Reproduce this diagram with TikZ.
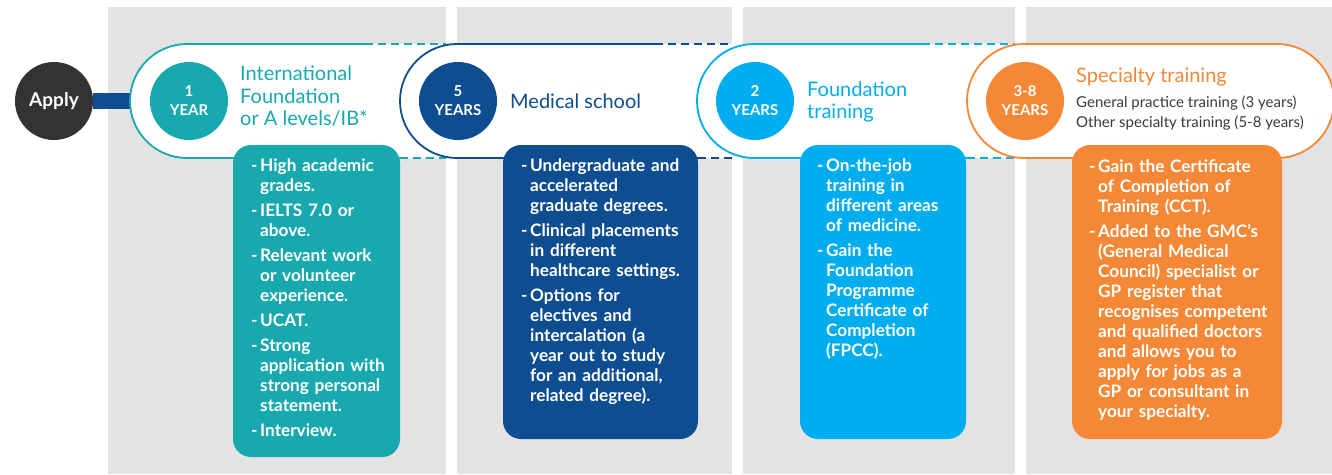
\documentclass[tikz,border=0pt]{standalone}
\usepackage{fontspec}
\setmainfont{Lato}
\definecolor{teal}{HTML}{17A9AD}
\definecolor{dblue}{HTML}{0E4D8F}
\definecolor{lblue}{HTML}{00AEEF}
\definecolor{orng}{HTML}{F48836}
\definecolor{panelgray}{HTML}{E3E3E3}
\definecolor{applygray}{HTML}{333333}
\definecolor{subgray}{HTML}{3A3A3A}
\newcommand\bitem[1]{\hangindent=9pt\hangafter=1\noindent\makebox[9pt][l]{-}#1\par}
\begin{document}
\begin{tikzpicture}[x=1pt,y=-1pt,
  panel/.style={fill=panelgray},
  pillline/.style={line width=1.8pt},
  dashline/.style={line width=1.8pt, dash pattern=on 8pt off 5pt},
  yearcirc/.style={circle, minimum size=78pt, inner sep=0pt, text=white, font=\fontsize{15}{19}\selectfont\bfseries, align=center},
  infobox/.style={rounded corners=18pt},
  boxtext/.style={anchor=north west, inner sep=0pt, text width=230pt, align=left, text=white, font=\fontsize{17.2}{20}\selectfont\bfseries},
  titletext/.style={anchor=base west, inner sep=0pt, font=\fontsize{20}{22}\selectfont},
  subtitletext/.style={anchor=base west, inner sep=0pt, font=\fontsize{15}{18}\selectfont, text=subgray}
]
\useasboundingbox (0,0) rectangle (1332,474);
% panels
\fill[panel] (108,7) rectangle (446,474);
\fill[panel] (457,7) rectangle (732,474);
\fill[panel] (743,7) rectangle (1015,474);
\fill[panel] (1026,7) rectangle (1332,474);

% apply and bar
\node[circle, fill=applygray, minimum size=78pt, inner sep=0pt, text=white, font=\fontsize{19}{22}\selectfont\bfseries] (apply) at (54,101) {Apply};
\coordinate (p1left) at (140,101);
\draw[line width=16pt, dblue] (apply.east) -- (p1left);

% pill 1
\fill[white] (446,44) -- (187,44) arc(270:90:57) -- (446,158) -- cycle;
\draw[pillline, teal] (365,44) -- (187,44) arc(270:90:57) -- (400,158);
\draw[dashline, teal] (365,44) -- (446,44);
\draw[dashline, teal] (400,158) -- (446,158);
% pill 2
\fill[white] (732,44) -- (457,44) arc(270:90:57) -- (732,158) -- cycle;
\draw[pillline, dblue] (655,44) -- (457,44) arc(270:90:57) -- (698,158);
\draw[dashline, dblue] (655,44) -- (732,44);
\draw[dashline, dblue] (698,158) -- (732,158);
% pill 3
\fill[white] (1015,44) -- (754,44) arc(270:90:57) -- (1015,158) -- cycle;
\draw[pillline, lblue] (922,44) -- (754,44) arc(270:90:57) -- (967,158);
\draw[dashline, lblue] (922,44) -- (1015,44);
\draw[dashline, lblue] (967,158) -- (1015,158);
% pill 4
\filldraw[pillline, draw=orng, fill=white] (1024,44) arc(270:90:57) -- (1277,158) arc(90:-90:57) -- cycle;

% year circles
\node[yearcirc, fill=teal] (y1) at (189,101) {1\\YEAR};
\node[yearcirc, fill=dblue] (y2) at (458,101) {5\\YEARS};
\node[yearcirc, fill=lblue] (y3) at (755,101) {2\\YEARS};
\node[yearcirc, fill=orng] (y4) at (1025,101) {3-8\\YEARS};

% titles
\node[titletext, text=teal] (t1a) at (240,80.5) {International};
\node[titletext, text=teal] (t1b) at (240,103) {Foundation};
\node[titletext, text=teal] (t1c) at (240,125.5) {or A levels/IB*};
\node[titletext, text=dblue] (t2) at (510,108) {Medical school};
\node[titletext, text=lblue] (t3a) at (807,96) {Foundation};
\node[titletext, text=lblue] (t3b) at (807,118) {training};
\node[titletext, text=orng] (t4) at (1076,82) {Specialty training};
\node[subtitletext] (s4a) at (1076,107) {General practice training (3 years)};
\node[subtitletext] (s4b) at (1076,127) {Other specialty training (5-8 years)};

% info boxes
\fill[teal, infobox] (233,145) rectangle (400,457);
\fill[dblue, infobox] (503,145) rectangle (698,439);
\fill[lblue, infobox] (800,145) rectangle (966,439);
\fill[orng, infobox] (1072,145) rectangle (1282,439);

\node[boxtext] (b1) at (251,159) {\setlength{\parskip}{5pt}%
\bitem{High academic\newline grades.}%
\bitem{IELTS 7.0 or\newline above.}%
\bitem{Relevant work\newline or volunteer\newline experience.}%
\bitem{UCAT.}%
\bitem{Strong\newline application with\newline strong personal\newline statement.}%
\bitem{Interview.}};
\node[boxtext] (b2) at (521,159) {\setlength{\parskip}{5pt}%
\bitem{Undergraduate and\newline accelerated\newline graduate degrees.}%
\bitem{Clinical placements\newline in different\newline healthcare settings.}%
\bitem{Options for\newline electives and\newline intercalation (a\newline year out to study\newline for an additional,\newline related degree).}};
\node[boxtext] (b3) at (817,159) {\setlength{\parskip}{5pt}%
\bitem{On-the-job\newline training in\newline different areas\newline of medicine.}%
\bitem{Gain the\newline Foundation\newline Programme\newline Certificate of\newline Completion\newline (FPCC).}};
\node[boxtext] (b4) at (1089,159) {\setlength{\parskip}{5pt}%
\bitem{Gain the Certificate\newline of Completion of\newline Training (CCT).}%
\bitem{Added to the GMC’s\newline (General Medical\newline Council) specialist or\newline GP register that\newline recognises competent\newline and qualified doctors\newline and allows you to\newline apply for jobs as a\newline GP or consultant in\newline your specialty.}};
\end{tikzpicture}
\end{document}
